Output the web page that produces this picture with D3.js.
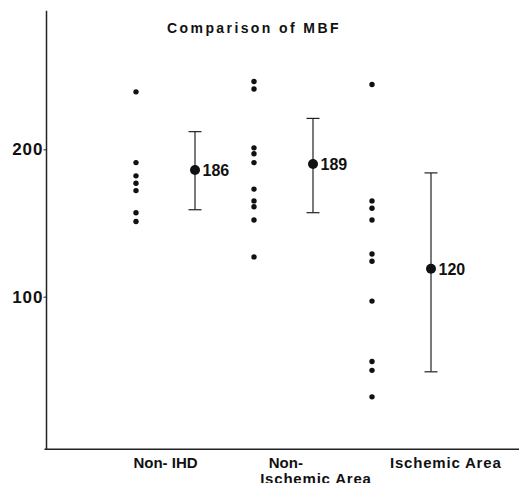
<!DOCTYPE html>
<html>
<head>
<meta charset="utf-8">
<script src="https://cdn.jsdelivr.net/npm/d3@7"></script>
<style>
  body { margin: 0; background: #fff; }
  text { font-family: "Liberation Sans", Arial, sans-serif; font-weight: bold; fill: #111; }
</style>
</head>
<body>
<div id="chart-area"></div>
<script>
// chart data
var nonIHD = [239, 191, 182, 177, 172, 157, 151];
var nonIschemic = [246, 241, 201, 197, 191, 173, 165, 161, 152, 127];
var ischemic = [244, 165, 160, 152, 129, 124, 97, 56, 50, 32];

var means = [186, 190, 119];
var meanLabels = ["186", "189", "120"];
var upper = [212, 221, 184];
var lower = [159, 157, 49];

var yTicks = [100, 200];

var width = 519,
	height = 483;

var svg = d3.select("#chart-area").append("svg")
	.attr("width", width)
	.attr("height", height);

// six column slots: scatter, mean, scatter, mean, scatter, mean
var x = d3.scaleLinear()
	.domain([0, 5])
	.range([136, 431]);

var y = d3.scaleLinear()
	.domain([0, 300])
	.range([444, 2]);

var axisX = 46.5;

// axes lines
svg.append("line")
	.attr("x1", axisX).attr("x2", axisX)
	.attr("y1", y(294)).attr("y2", y(-3.6))
	.attr("stroke", "#222")
	.attr("stroke-width", 1.5);

svg.append("line")
	.attr("x1", axisX - 2).attr("x2", width)
	.attr("y1", y(-3.6)).attr("y2", y(-3.6))
	.attr("stroke", "#222")
	.attr("stroke-width", 1.5);

var yAxis = d3.axisLeft(y)
	.tickValues(yTicks)
	.tickSize(3)
	.tickPadding(0);

var gy = svg.append("g")
	.attr("transform", "translate(" + axisX + ",0)")
	.call(yAxis);
gy.select(".domain").remove();
gy.selectAll("line").attr("stroke", "#222");
gy.selectAll("text")
	.attr("font-size", 17)
	.attr("letter-spacing", 1)
	.attr("fill", "#111")
	.attr("font-family", "Liberation Sans, Arial, sans-serif")
	.attr("font-weight", "bold");

// title
svg.append("text")
	.attr("x", 254)
	.attr("y", 32.5)
	.attr("text-anchor", "middle")
	.attr("font-size", 14)
	.attr("letter-spacing", 2.4)
	.text("Comparison of MBF");

// scatter dots
var groups = [nonIHD, nonIschemic, ischemic];
groups.forEach(function(vals, i) {
	svg.selectAll(".dot" + i)
		.data(vals)
		.enter()
		.append("circle")
		.attr("class", "dot" + i)
		.attr("cx", x(i * 2))
		.attr("cy", function(d) { return y(d); })
		.attr("r", 2.7)
		.attr("fill", "#111");
});

// mean +- error bars
means.forEach(function(m, i) {
	var cx = x(i * 2 + 1);
	svg.append("line")
		.attr("x1", cx).attr("x2", cx)
		.attr("y1", y(upper[i])).attr("y2", y(lower[i]))
		.attr("stroke", "#222").attr("stroke-width", 1.2);
	[upper[i], lower[i]].forEach(function(v) {
		svg.append("line")
			.attr("x1", cx - 6.5).attr("x2", cx + 6.5)
			.attr("y1", y(v)).attr("y2", y(v))
			.attr("stroke", "#222").attr("stroke-width", 1.2);
	});
	svg.append("circle")
		.attr("cx", cx)
		.attr("cy", y(m))
		.attr("r", 5)
		.attr("fill", "#111");
	svg.append("text")
		.attr("x", cx + 7.5)
		.attr("y", y(m) + 6)
		.attr("font-size", 16)
		.text(meanLabels[i]);
});

// category labels
var labelY = 468;
svg.append("text")
	.attr("x", x(0.5))
	.attr("y", labelY)
	.attr("text-anchor", "middle")
	.attr("font-size", 15)
	.text("Non- IHD");

svg.append("text")
	.attr("x", x(2.25))
	.attr("y", labelY)
	.attr("font-size", 15)
	.text("Non-");

svg.append("text")
	.attr("x", x(3.05))
	.attr("y", labelY + 16)
	.attr("text-anchor", "middle")
	.attr("font-size", 15)
	.attr("letter-spacing", 0.8)
	.text("Ischemic Area");

svg.append("text")
	.attr("x", x(5.25))
	.attr("y", labelY)
	.attr("text-anchor", "middle")
	.attr("font-size", 15)
	.attr("letter-spacing", 0.8)
	.text("Ischemic Area");
</script>
</body>
</html>
